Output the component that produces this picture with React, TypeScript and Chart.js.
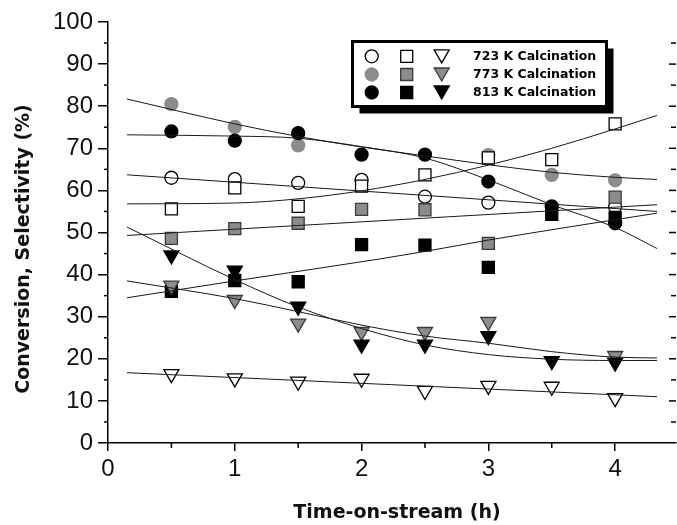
import React, { useEffect, useRef } from 'react';
import { Chart, registerables } from 'chart.js';

Chart.register(...registerables);

// ---------- data ----------
const times = [0.5, 1, 1.5, 2, 2.5, 3, 3.5, 4];

const circle723 = [63.0, 62.7, 61.8, 62.5, 58.5, 57.1, null, 56.1];
const square723 = [55.6, 60.6, 56.2, 61.0, 63.7, 67.7, 67.3, 75.8];
const triangle723 = [16.4, 15.4, 14.6, 15.3, 12.4, 13.6, 13.4, 10.7];

const circle773 = [80.5, 75.1, 70.7, null, null, 68.4, 63.7, 62.4];
const square773 = [48.6, 50.9, 52.2, 55.5, 55.4, 47.4, null, 58.4];
const triangle773 = [37.4, 34.0, 28.4, 26.4, 26.4, 28.8, null, 20.7];

const circle813 = [74.0, 71.8, 73.6, 68.5, 68.5, 62.1, 56.2, 52.2];
const square813 = [36.0, 38.6, 38.3, 47.1, 47.0, 41.7, 54.3, 53.6];
const triangle813 = [44.6, 41.0, 32.4, 23.4, 23.4, 25.4, 19.5, 19.1];

// fitted curves (x, y)
const fitCircle773X = [0.15, 1, 1.5, 2, 2.5, 3, 3.5, 4, 4.33];
const fitCircle773Y = [81.7, 75.8, 72.8, 70.3, 68.2, 66.1, 64.3, 63.1, 62.6];
const fitCircle813X = [0.15, 1, 1.5, 2, 2.5, 3, 3.5, 4, 4.33];
const fitCircle813Y = [73.2, 72.9, 72.4, 70.4, 67.7, 62.5, 56.6, 51.2, 46.2];
const fitCircle723X = [0.15, 4.33];
const fitCircle723Y = [63.7, 55.0];
const fitSquare723X = [0.15, 1, 1.5, 2, 2.5, 3, 3.5, 4, 4.33];
const fitSquare723Y = [56.8, 57.0, 58.0, 59.9, 62.6, 66.0, 70.0, 74.6, 77.8];
const fitSquare773X = [0.15, 4.33];
const fitSquare773Y = [49.3, 56.6];
const fitSquare813X = [0.15, 1, 2.14, 2.5, 3, 4.33];
const fitSquare813Y = [34.5, 38.5, 43.7, 45.5, 48.2, 54.6];
const fitTriangle773X = [0.15, 1, 1.5, 2, 2.5, 3, 3.5, 4, 4.33];
const fitTriangle773Y = [38.5, 34.3, 31.2, 28.0, 25.4, 23.7, 21.7, 20.4, 20.2];
const fitTriangle813X = [0.15, 1, 1.5, 2, 2.5, 3, 3.5, 4, 4.33];
const fitTriangle813Y = [51.3, 38.8, 32.3, 27.2, 23.3, 21.0, 19.9, 19.6, 19.6];
const fitTriangle723X = [0.15, 4.33];
const fitTriangle723Y = [16.7, 11.0];

const xTickValues = [0, 1, 2, 3, 4];
const xMinorTicks = [0.5, 1.5, 2.5, 3.5];
const legendLabels = ['723 K Calcination', '773 K Calcination', '813 K Calcination'];
const xTitle = 'Time-on-stream (h)';
const yTitle = 'Conversion, Selectivity (%)';

// ---------- styles ----------
const FILL = {
  open: { bg: '#ffffff', border: '#000000' },
  grey: { bg: '#8c8c8c', border: '#3a3a3a' },
  black: { bg: '#000000', border: '#000000' },
};
const SHAPES = {
  circle: { style: 'circle', radius: 6.5, rotation: 0 },
  square: { style: 'rect', radius: 8.5, rotation: 0 },
  triangle: { style: 'triangle', radius: 8.7, rotation: 180 },
};

const pts = (ys: (number | null)[]) => times.map((t, i) => ({ x: t, y: ys[i] }));
const linePts = (xs: number[], ys: number[]) => xs.map((v, i) => ({ x: v, y: ys[i] }));

function markerSet(ys: (number | null)[], shape: keyof typeof SHAPES, fill: keyof typeof FILL) {
  const s = SHAPES[shape];
  const f = FILL[fill];
  const border = fill === 'grey' && shape === 'circle' ? f.bg : f.border;
  return {
    type: 'scatter' as const,
    data: pts(ys),
    showLine: false,
    pointStyle: s.style,
    pointRadius: s.radius,
    pointRotation: s.rotation,
    pointBackgroundColor: f.bg,
    pointBorderColor: border,
    pointBorderWidth: 1.3,
  };
}

function fitSet(xs: number[], ys: number[]) {
  return {
    type: 'line' as const,
    data: linePts(xs, ys),
    showLine: true,
    borderColor: '#1a1a1a',
    borderWidth: 1,
    pointRadius: 0,
    fill: false,
    cubicInterpolationMode: 'monotone' as const,
  };
}

function drawMarker(ctx: CanvasRenderingContext2D, shape: keyof typeof SHAPES, fill: keyof typeof FILL, x: number, y: number) {
  const s = SHAPES[shape];
  const f = FILL[fill];
  const r = s.radius;
  ctx.beginPath();
  if (shape === 'circle') {
    ctx.arc(x, y, r, 0, Math.PI * 2);
  } else if (shape === 'square') {
    const h = r * Math.SQRT1_2;
    ctx.rect(x - h, y - h, 2 * h, 2 * h);
  } else {
    const cy = y - r / 4;
    ctx.moveTo(x, cy + r);
    ctx.lineTo(x - 0.866 * r, cy - 0.5 * r);
    ctx.lineTo(x + 0.866 * r, cy - 0.5 * r);
    ctx.closePath();
  }
  ctx.fillStyle = f.bg;
  ctx.fill();
  ctx.lineWidth = 1.3;
  ctx.strokeStyle = fill === 'grey' && shape === 'circle' ? f.bg : f.border;
  ctx.stroke();
}

const decorPlugin = {
  id: 'decor',
  afterDraw(chart: any) {
    const { ctx, chartArea: a, scales } = chart;
    const xs = scales.x;
    const ys = scales.y;
    ctx.save();
    ctx.strokeStyle = '#000';
    ctx.lineWidth = 1.5;
    const seg = (x1: number, y1: number, x2: number, y2: number) => {
      ctx.beginPath();
      ctx.moveTo(x1, y1);
      ctx.lineTo(x2, y2);
      ctx.stroke();
    };
    // minor ticks, left axis
    for (let v = 5; v < 100; v += 10) {
      const py = ys.getPixelForValue(v);
      seg(a.left, py, a.left - 4, py);
    }
    // minor ticks, bottom axis
    xMinorTicks.forEach((v) => {
      const px = xs.getPixelForValue(v);
      seg(px, a.bottom, px, a.bottom + 5);
    });
    // right side inward ticks
    for (let v = 5; v < 100; v += 5) {
      const py = ys.getPixelForValue(v);
      const len = v % 10 === 0 ? 7 : 5;
      seg(a.right, py, a.right - len, py);
    }

    // axis titles
    ctx.fillStyle = '#111';
    ctx.font = 'bold 19px "DejaVu Sans"';
    ctx.textAlign = 'center';
    ctx.textBaseline = 'alphabetic';
    ctx.fillText(xTitle, 397, 518);
    ctx.save();
    ctx.translate(24, 249);
    ctx.rotate(-Math.PI / 2);
    ctx.textBaseline = 'middle';
    ctx.fillText(yTitle, 0, 0);
    ctx.restore();

    // legend box
    const bx = 352.5, by = 41.5, bw = 254, bh = 65;
    ctx.fillStyle = '#000';
    ctx.fillRect(bx + 7, by + 7, bw, bh);
    ctx.fillStyle = '#fff';
    ctx.fillRect(bx, by, bw, bh);
    ctx.lineWidth = 3;
    ctx.strokeStyle = '#000';
    ctx.strokeRect(bx, by, bw, bh);

    const rows: (keyof typeof FILL)[] = ['open', 'grey', 'black'];
    const rowY = [56.3, 74.5, 92.5];
    rows.forEach((fill, i) => {
      drawMarker(ctx, 'circle', fill, 371.7, rowY[i]);
      drawMarker(ctx, 'square', fill, 406.7, rowY[i]);
      drawMarker(ctx, 'triangle', fill, 441.7, rowY[i]);
      ctx.fillStyle = '#000';
      ctx.font = 'bold 12.5px "DejaVu Sans"';
      ctx.textAlign = 'left';
      ctx.textBaseline = 'middle';
      ctx.fillText(legendLabels[i], 473, rowY[i] + 0.5);
    });
    ctx.restore();
  },
};

export default function App() {
  const ref = useRef<HTMLCanvasElement | null>(null);

  useEffect(() => {
    document.body.style.margin = '0';
    if (!ref.current) return;
    const datasets: any[] = [
      fitSet(fitCircle773X, fitCircle773Y),
      fitSet(fitCircle813X, fitCircle813Y),
      fitSet(fitCircle723X, fitCircle723Y),
      fitSet(fitSquare723X, fitSquare723Y),
      fitSet(fitSquare773X, fitSquare773Y),
      fitSet(fitSquare813X, fitSquare813Y),
      fitSet(fitTriangle773X, fitTriangle773Y),
      fitSet(fitTriangle813X, fitTriangle813Y),
      fitSet(fitTriangle723X, fitTriangle723Y),
      markerSet(triangle813, 'triangle', 'black'),
      markerSet(triangle773, 'triangle', 'grey'),
      markerSet(triangle723, 'triangle', 'open'),
      markerSet(square813, 'square', 'black'),
      markerSet(square773, 'square', 'grey'),
      markerSet(square723, 'square', 'open'),
      markerSet(circle813, 'circle', 'black'),
      markerSet(circle773, 'circle', 'grey'),
      markerSet(circle723, 'circle', 'open'),
    ];

    const chart = new Chart(ref.current, {
      type: 'scatter',
      data: { datasets },
      options: {
        responsive: false,
        animation: false,
        devicePixelRatio: 1,
        layout: { autoPadding: false, padding: { top: 22, right: 1, left: 0, bottom: 0 } },
        plugins: { legend: { display: false }, tooltip: { enabled: false } },
        scales: {
          x: {
            type: 'linear',
            min: 0,
            max: 4.48,
            afterBuildTicks: (s: any) => {
              s.ticks = xTickValues.map((v) => ({ value: v }));
            },
            afterFit: (s: any) => {
              s.height = 82;
              s.paddingLeft = 0;
              s.paddingRight = 0;
            },
            ticks: {
              stepSize: 1,
              padding: 4,
              maxRotation: 0,
              autoSkip: false,
              color: '#111',
              font: { family: 'Liberation Sans', size: 24 },
            },
            grid: {
              display: true,
              drawOnChartArea: false,
              drawTicks: true,
              tickLength: 8,
              color: '#000',
              lineWidth: 1.5,
            },
            border: { display: true, color: '#000', width: 1.5 },
          },
          y: {
            type: 'linear',
            min: 0,
            max: 100,
            afterFit: (s: any) => {
              s.width = 108;
            },
            ticks: {
              stepSize: 10,
              padding: 5,
              color: '#111',
              font: { family: 'Liberation Sans', size: 24 },
            },
            grid: {
              display: true,
              drawOnChartArea: false,
              drawTicks: true,
              tickLength: 10,
              color: '#000',
              lineWidth: 1.5,
            },
            border: { display: true, color: '#000', width: 1.5 },
          },
        },
      },
      plugins: [decorPlugin],
    });
    return () => chart.destroy();
  }, []);

  return <canvas ref={ref} width={677} height={525} style={{ display: 'block' }} />;
}
